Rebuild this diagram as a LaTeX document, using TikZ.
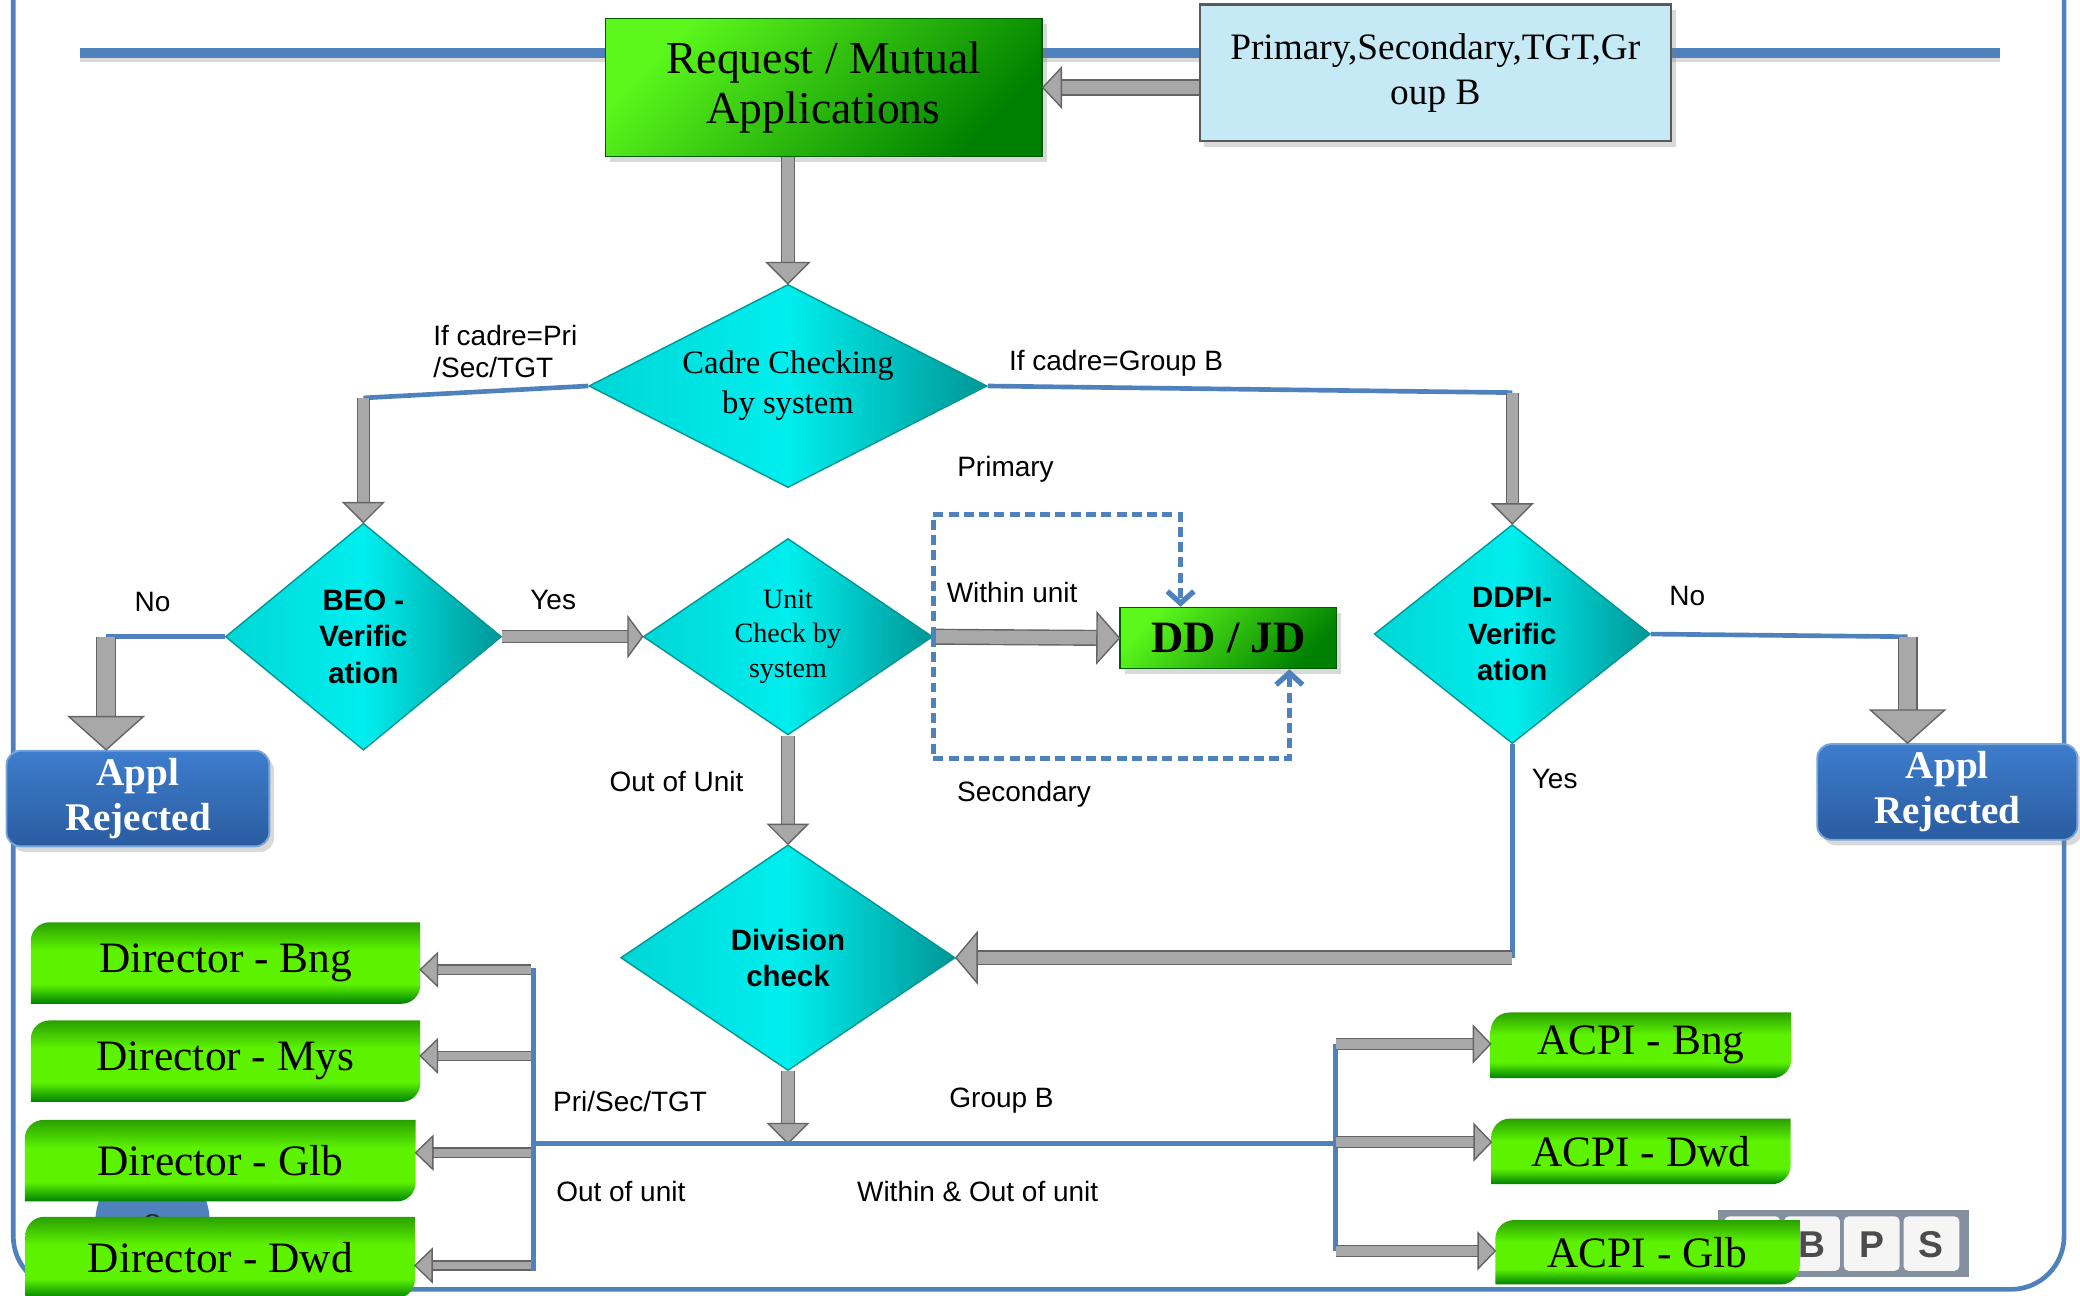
\documentclass[tikz,border=0pt]{standalone}
\usepackage{fontspec}
\setmainfont{Liberation Serif}
\setsansfont{Liberation Sans}
\usetikzlibrary{shapes.geometric,calc,shadows,backgrounds,arrows.meta}

\definecolor{lineblue}{RGB}{79,129,189}
\definecolor{greenlite}{RGB}{92,248,28}
\definecolor{greendark}{RGB}{0,128,0}
\definecolor{greenmid}{RGB}{92,242,0}
\definecolor{greentop}{RGB}{42,160,0}
\definecolor{cyanleft}{RGB}{0,214,214}
\definecolor{cyanmid}{RGB}{0,238,238}
\definecolor{cyanright}{RGB}{0,150,150}
\definecolor{rejtop}{RGB}{62,125,205}
\definecolor{rejbot}{RGB}{42,92,160}
\definecolor{paleblue}{RGB}{198,234,245}
\definecolor{arrowfill}{RGB}{168,168,168}
\definecolor{arrowedge}{RGB}{100,100,100}
\definecolor{keygray}{RGB}{132,144,160}

\pgfdeclareverticalshading{tabgreen}{100bp}{color(0bp)=(greendark); color(25bp)=(greendark);
  color(37bp)=(greenmid); color(58bp)=(greenmid); color(75bp)=(greentop); color(100bp)=(greentop)}

% gray block arrow: from, to, shaft width, half head width, head length
\newcommand{\blockarrow}[5]{%
  \coordinate (ba) at ($(#2)!#5!(#1)$);
  \draw[draw=arrowedge, double=arrowfill, double distance=#3, line width=0.3pt] (#1) -- (ba);
  \filldraw[fill=arrowfill, draw=arrowedge, line width=0.3pt, line join=miter]
    (#2) -- ($(ba)!#4!90:(#2)$) -- ($(ba)!#4!-90:(#2)$) -- cycle;
}
% green tab behind a node: top left and bottom right corners rounded
\newcommand{\tabshape}[1]{%
  \shade[shading=tabgreen]
    (#1.south west) -- ([yshift=-4pt]#1.north west) arc[start angle=180, end angle=90, radius=4pt]
    -- (#1.north east) -- ([yshift=4pt]#1.south east) arc[start angle=0, end angle=-90, radius=4pt]
    -- cycle;
}

\begin{document}
\begin{tikzpicture}[x=0.01cm, y=-0.01cm,
    flow/.style={draw=lineblue, line width=0.035cm},
    dashflow/.style={draw=lineblue, line width=0.04cm, dash pattern=on 0.075cm off 0.04cm,
        -{Straight Barb[length=0.09cm, width=0.2cm]}},
    decision/.style={diamond, draw=cyanright, line width=0.3pt, inner sep=0pt, align=center,
        left color=cyanleft, right color=cyanright, middle color=cyanmid},
    greenbox/.style={rectangle, draw=greendark!70!black, line width=0.3pt, top color=greenlite,
        bottom color=greendark, shading angle=45, align=center,
        drop shadow={opacity=0.3, shadow xshift=1pt, shadow yshift=-1.2pt}},
    rejbox/.style={rectangle, rounded corners=3pt, draw=rejtop!70!white, line width=0.4pt,
        top color=rejtop, bottom color=rejbot, text=white, align=center, inner sep=0.5pt,
        minimum height=0.72cm, font=\bfseries\fontsize{8.4}{9.6}\selectfont,
        drop shadow={opacity=0.3, shadow xshift=1pt, shadow yshift=-1.2pt}},
    lbl/.style={inner sep=0pt, font=\sffamily\fontsize{6}{6.8}\selectfont}]
    \tikzstyle{tabtext}=[rectangle, inner sep=0pt, font=\fontsize{9.3}{10}\selectfont]

    \useasboundingbox (0,0) rectangle (1568,977);

    % top rule
    \draw[line width=0.08cm, gray!30] (60,43) -- (1508,43);
    \draw[line width=0.08cm, lineblue] (60,40) -- (1508,40);

    % boxes
    \node[greenbox, minimum width=3.29cm, minimum height=1.04cm,
        font=\fontsize{9.8}{10.9}\selectfont] (req) at (621,66) {Request / Mutual\\Applications};
    \node[rectangle, draw=gray!70!black, line width=0.5pt, fill=paleblue, align=center,
        minimum width=3.55cm, minimum height=1.03cm, font=\fontsize{8}{9.7}\selectfont,
        drop shadow={opacity=0.3, shadow xshift=1pt, shadow yshift=-1.2pt}]
        (cadrebox) at (1082,55) {Primary,Secondary,TGT,Gr\\oup B};

    \node[decision, aspect=2, minimum width=3cm, minimum height=1.53cm,
        font=\fontsize{7}{8.5}\selectfont] (cadre) at (594,291) {Cadre Checking\\by system};
    \node[decision, aspect=1.2, minimum width=2.08cm, minimum height=1.71cm,
        font=\sffamily\bfseries\fontsize{6.3}{7.8}\selectfont] (beo) at (274,480) {BEO -\\Verific\\ation};
    \node[decision, aspect=1.47, minimum width=2.18cm, minimum height=1.48cm,
        font=\fontsize{6}{7.3}\selectfont] (unit) at (594,480) {Unit\\Check by\\system};
    \node[decision, aspect=1.26, minimum width=2.08cm, minimum height=1.65cm,
        font=\sffamily\bfseries\fontsize{6.3}{7.8}\selectfont] (ddpi) at (1140,478) {DDPI-\\Verific\\ation};
    \node[decision, aspect=1.48, minimum width=2.52cm, minimum height=1.70cm,
        font=\sffamily\bfseries\fontsize{6.3}{7.8}\selectfont] (div) at (594,722) {Division\\check};

    \node[greenbox, minimum width=1.63cm, minimum height=0.46cm,
        font=\bfseries\fontsize{9.6}{11}\selectfont] (ddjd) at (926,481) {DD / JD};

    \node[rejbox, minimum width=1.98cm] (rejl) at (104,602) {Appl\\Rejected};
    \node[rejbox, minimum width=1.96cm] (rejr) at (1468,597) {Appl\\Rejected};

    \node[tabtext, minimum width=2.92cm, minimum height=0.6cm] (dbng) at (170,726) {Director - Bng};
    \node[tabtext, minimum width=2.92cm, minimum height=0.6cm] (dmys) at (170,800) {Director - Mys};
    \node[tabtext, minimum width=2.93cm, minimum height=0.6cm] (dglb) at (166,875) {Director - Glb};
    \node[tabtext, minimum width=2.92cm, minimum height=0.6cm] (ddwd) at (166,948) {Director - Dwd};

    \node[tabtext, minimum width=2.25cm, minimum height=0.48cm] (abng) at (1237,788) {ACPI - Bng};
    \node[tabtext, minimum width=2.24cm, minimum height=0.48cm] (adwd) at (1237,868) {ACPI - Dwd};
    \node[tabtext, minimum width=2.28cm, minimum height=0.47cm] (aglb) at (1242,944) {ACPI - Glb};

    % labels
    \node[lbl, anchor=west, align=left] (lpri) at (326,265) {If cadre=Pri\\/Sec/TGT};
    \node[lbl, anchor=west] (lgrp) at (760,274) {If cadre=Group B};
    \node[lbl] (lprim) at (758,354) {Primary};
    \node[lbl] (lnol) at (115,454) {No};
    \node[lbl] (lyesl) at (417,452) {Yes};
    \node[lbl] (lwith) at (763,447) {Within unit};
    \node[lbl] (lsec) at (772,599) {Secondary};
    \node[lbl] (lout) at (510,589) {Out of Unit};
    \node[lbl] (lnor) at (1272,449) {No};
    \node[lbl] (lyesr) at (1172,587) {Yes};
    \node[lbl] (lpst) at (475,830) {Pri/Sec/TGT};
    \node[lbl] (lgb) at (755,830) {Group B};
    \node[lbl] (loou) at (468,898) {Out of unit};
    \node[lbl] (lwou) at (737,898) {Within \& Out of unit};

    % coordinates on the lines
    \coordinate (pa) at (cadrebox.west |- req.east);
    \coordinate (ra) at (req.south -| cadre.north);
    \coordinate (cl) at (274,300);
    \coordinate (cr) at (1140,296);
    \coordinate (nl) at (80,480);
    \coordinate (nlt) at (nl |- rejl.north);
    \coordinate (nr) at (1438,480);
    \coordinate (nrt) at (nr |- rejr.north);
    \coordinate (yr) at (ddpi.south |- div.east);
    \coordinate (bus) at (594,862);
    \coordinate (busl) at (402,862);
    \coordinate (busr) at (1007,862);
    \coordinate (ptop) at (890,388);
    \coordinate (sbot) at (972,572);

    % connectors
    \blockarrow{pa}{req.east}{0.10cm}{0.15cm}{0.14cm}
    \blockarrow{ra}{cadre.north}{0.09cm}{0.16cm}{0.16cm}
    \draw[flow] (cadre.west) -- (cl);
    \blockarrow{cl}{beo.north}{0.08cm}{0.15cm}{0.15cm}
    \draw[flow] (cadre.east) -- (cr);
    \blockarrow{cr}{ddpi.north}{0.08cm}{0.15cm}{0.15cm}
    \draw[flow] (beo.west) -- (nl);
    \blockarrow{nl}{nlt}{0.13cm}{0.28cm}{0.25cm}
    \draw[flow] (ddpi.east) -- (nr);
    \blockarrow{nr}{nrt}{0.13cm}{0.28cm}{0.25cm}
    \blockarrow{beo.east}{unit.west}{0.08cm}{0.15cm}{0.11cm}
    \blockarrow{unit.east}{ddjd.west}{0.10cm}{0.19cm}{0.17cm}
    \draw[dashflow] (unit.east) |- (ptop) -- (ptop |- ddjd.north);
    \draw[dashflow] (unit.east) |- (sbot) -- (sbot |- ddjd.south);
    \blockarrow{unit.south}{div.north}{0.09cm}{0.15cm}{0.15cm}
    \draw[flow] (ddpi.south) -- (yr);
    \blockarrow{yr}{div.east}{0.09cm}{0.19cm}{0.16cm}
    \blockarrow{div.south}{bus}{0.09cm}{0.15cm}{0.15cm}
    \draw[flow] (busl) -- (busr);
    \draw[flow] (402,730) -- (402,958);
    \draw[flow] (1007,787) -- (1007,943);
    \foreach \b/\y in {dbng/731, dmys/796, dglb/869, ddwd/954} {
        \coordinate (da) at (400,\y);
        \coordinate (db) at (da -| \b.east);
        \blockarrow{da}{db}{0.06cm}{0.125cm}{0.13cm}
    }
    \foreach \b/\y in {abng/787, adwd/861, aglb/943} {
        \coordinate (aa) at (1007,\y);
        \coordinate (ab) at (aa -| \b.west);
        \blockarrow{aa}{ab}{0.07cm}{0.135cm}{0.13cm}
    }

    \begin{scope}[on background layer]
        % slide frame
        \draw[lineblue, line width=0.035cm, rounded corners=0.4cm] (10,-60) rectangle (1556,972);
        % page number behind the boxes
        \fill[lineblue] (115,920) circle[radius=0.43cm];
        \node[font=\fontsize{9}{10}\selectfont, text=black!85] (pgnum) at (115,926) {8};
        % logo keys
        \fill[keygray] (1295,912) rectangle (1484,963);
        \foreach \x in {1300,1345,1390,1435}
            \fill[white!92!gray, rounded corners=1pt] (\x,917) rectangle ++(42,41);
        \node[font=\sffamily\bfseries\fontsize{8}{9}\selectfont, text=black!70] (kb) at (1366,938) {B};
        \node[font=\sffamily\bfseries\fontsize{8}{9}\selectfont, text=black!70] (kp) at (1411,938) {P};
        \node[font=\sffamily\bfseries\fontsize{8}{9}\selectfont, text=black!70] (ks) at (1456,938) {S};
        % green tabs
        \tabshape{dbng}
        \tabshape{dmys}
        \tabshape{dglb}
        \tabshape{ddwd}
        \tabshape{abng}
        \tabshape{adwd}
        \tabshape{aglb}
    \end{scope}

\end{tikzpicture}
\end{document}
